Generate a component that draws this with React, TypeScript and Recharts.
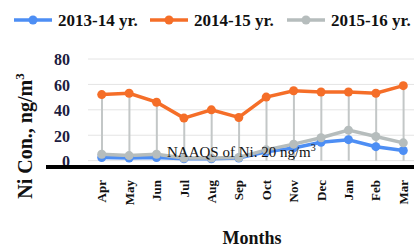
import React from 'react';
import {
  ComposedChart,
  Line,
  Bar,
  XAxis,
  YAxis,
  CartesianGrid,
} from 'recharts';

const months = ['Apr', 'May', 'Jun', 'Jul', 'Aug', 'Sep', 'Oct', 'Nov', 'Dec', 'Jan', 'Feb', 'Mar'];
const ni201314 = [2.5, 2, 2.5, 1.5, 1.5, 2, 7, 10, 14.5, 16.5, 11, 8];
const ni201415 = [52, 53, 46, 33.5, 40, 34, 50, 55, 54, 54, 53, 59];
const ni201516 = [5, 4, 5, 2, 2, 2.5, 8.5, 13, 18, 24, 19, 14];
const yTicks = [0, 20, 40, 60, 80];

const seriesNames = ['2013-14 yr.', '2014-15 yr.', '2015-16 yr.'];
const seriesKeys = ['y1314', 'y1415', 'y1516'];
const seriesColors = ['#4d8ef4', '#f56e28', '#b6bdbd'];

const serif = '"Liberation Serif", "DejaVu Serif", serif';

const chartData = months.map((m, i) => ({
  month: m,
  y1314: ni201314[i],
  y1415: ni201415[i],
  y1516: ni201516[i],
}));

const YTick = (props: any) => {
  const { x, y, payload } = props;
  return (
    <text x={x} y={y} dy="0.4em" textAnchor="end" fontFamily={serif} fontWeight="bold" fontSize={16} fill="#1c1c40">
      {payload.value}
    </text>
  );
};

const XTick = (props: any) => {
  const { x, y, payload } = props;
  return (
    <text
      x={x}
      y={y}
      dy="0.35em"
      transform={`rotate(-90, ${x}, ${y})`}
      textAnchor="end"
      fontFamily={serif}
      fontWeight="bold"
      fontSize={13}
      fill="#111"
    >
      {payload.value}
    </text>
  );
};

// legend item x offsets
const legendX = [14, 150, 287];

export default function App() {
  return (
    <div style={{ position: 'absolute', left: 0, top: 0, width: 414, height: 248, overflow: 'hidden', background: '#fff' }}>
      <ComposedChart width={417} height={248} data={chartData} margin={{ top: 59, right: 0, left: 0, bottom: 0 }}>
        <CartesianGrid vertical={false} stroke="#e4e4e4" strokeWidth={1} />
        <XAxis
          dataKey="month"
          height={81}
          axisLine={false}
          tickLine={false}
          tickSize={0}
          tickMargin={13}
          interval={0}
          tick={<XTick />}
        />
        <YAxis
          width={88}
          domain={[-5, 80]}
          ticks={yTicks}
          axisLine={false}
          tickLine={false}
          tickSize={0}
          tickMargin={18}
          tick={<YTick />}
        />
        {/* drop lines from the 2014-15 points */}
        <Bar dataKey="y1415" barSize={2} fill="#c3c7c7" isAnimationActive={false} />
        {[0, 1, 2].map((i) => (
          <Line
            key={seriesKeys[i]}
            dataKey={seriesKeys[i]}
            stroke={seriesColors[i]}
            strokeWidth={3.5}
            dot={{ r: 4.5, fill: seriesColors[i], stroke: seriesColors[i], strokeWidth: 0 }}
            isAnimationActive={false}
          />
        ))}
      </ComposedChart>

      <svg width={414} height={248} style={{ position: 'absolute', left: 0, top: 0, pointerEvents: 'none' }}>
        {seriesNames.map((name, i) => (
          <g key={name}>
            <line x1={legendX[i]} x2={legendX[i] + 38} y1={20} y2={20} stroke={seriesColors[i]} strokeWidth={3.5} />
            <circle cx={legendX[i] + 19} cy={20} r={4.5} fill={seriesColors[i]} />
            <text x={legendX[i] + 44} y={26} fontFamily={serif} fontWeight="bold" fontSize={17} fill="#111">
              {name}
            </text>
          </g>
        ))}
        <rect x={46} y={165} width={370} height={4} fill="#000" />
        <text x={167} y={157} fontFamily={serif} fontSize={15} fill="#111">
          NAAQS of Ni. 20 ng/m<tspan dy={-6} fontSize={10}>3</tspan>
        </text>
        <text
          transform="translate(32, 136) rotate(-90)"
          textAnchor="middle"
          fontFamily={serif}
          fontWeight="bold"
          fontSize={20}
          fill="#111"
        >
          Ni Con., ng/m<tspan dy={-8} fontSize={13}>3</tspan>
        </text>
        <text x={252} y={244} textAnchor="middle" fontFamily={serif} fontWeight="bold" fontSize={18} fill="#111">
          Months
        </text>
      </svg>
    </div>
  );
}
